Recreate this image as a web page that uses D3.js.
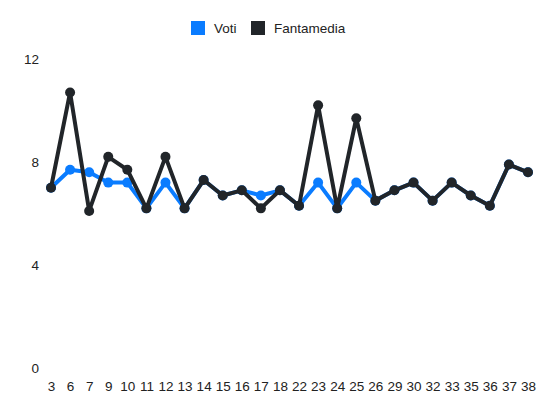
<!DOCTYPE html>
<html><head><meta charset="utf-8">
<script src="https://cdn.jsdelivr.net/npm/d3@7"></script>
<style>body{margin:0;background:#fff;}svg{display:block;font-family:"Liberation Sans",Arial,Helvetica,sans-serif;}</style>
</head><body>
<svg id="c" width="550" height="412"></svg>
<script>
const categories = ["3","6","7","9","10","11","12","13","14","15","16","17","18","22","23","24","25","26","29","30","32","33","35","36","37","38"];
const voti =       [7, 7.7, 7.6, 7.2, 7.2, 6.2, 7.2, 6.2, 7.3, 6.7, 6.9, 6.7, 6.9, 6.3, 7.2, 6.2, 7.2, 6.5, 6.9, 7.2, 6.5, 7.2, 6.7, 6.3, 7.9, 7.6];
const fantamedia = [7, 10.7, 6.1, 8.2, 7.7, 6.2, 8.2, 6.2, 7.3, 6.7, 6.9, 6.2, 6.9, 6.3, 10.2, 6.2, 9.7, 6.5, 6.9, 7.2, 6.5, 7.2, 6.7, 6.3, 7.9, 7.6];
const yTicks = [0, 4, 8, 12];
const seriesNames = ["Voti", "Fantamedia"];
const colors = ["#0a7cff", "#212529"];

const FS = 13.5;
const svg = d3.select("#c");
const x = d3.scalePoint().domain(categories).range([51, 528]);
const y = d3.scaleLinear().domain([0, 12]).range([368, 59]);

// y axis labels
const yAxis = d3.axisLeft(y).tickValues(yTicks).tickSize(0).tickPadding(0);
const gy = svg.append("g").attr("transform", "translate(39,0)").call(yAxis);
gy.select(".domain").remove();
gy.selectAll("text").attr("font-size", FS).attr("fill", "#222").attr("font-family", "Liberation Sans, Arial, sans-serif");

// x axis labels
const xAxis = d3.axisBottom(x).tickSize(0).tickPadding(0);
const gx = svg.append("g").attr("transform", "translate(0,381)").call(xAxis);
gx.select(".domain").remove();
gx.selectAll("text").attr("font-size", FS).attr("fill", "#222").attr("font-family", "Liberation Sans, Arial, sans-serif");

const data = [voti, fantamedia];
const line = d3.line().x((d, i) => x(categories[i])).y(d => y(d));
data.forEach((vals, si) => {
  const g = svg.append("g");
  g.append("path").datum(vals).attr("d", line).attr("fill", "none")
    .attr("stroke", colors[si]).attr("stroke-width", 4).attr("stroke-linejoin", "round");
  g.selectAll("circle").data(vals).join("circle")
    .attr("cx", (d, i) => x(categories[i])).attr("cy", d => y(d)).attr("r", 5)
    .attr("fill", colors[si]);
});

// legend
const legend = svg.append("g");
const legX = [191, 251];
seriesNames.forEach((n, i) => {
  legend.append("rect").attr("x", legX[i]).attr("y", 21).attr("width", 14).attr("height", 14).attr("fill", colors[i]);
  legend.append("text").attr("x", legX[i] + 23).attr("y", 32.5).attr("font-size", FS).attr("fill", "#222").text(n);
});
</script>
</body></html>
